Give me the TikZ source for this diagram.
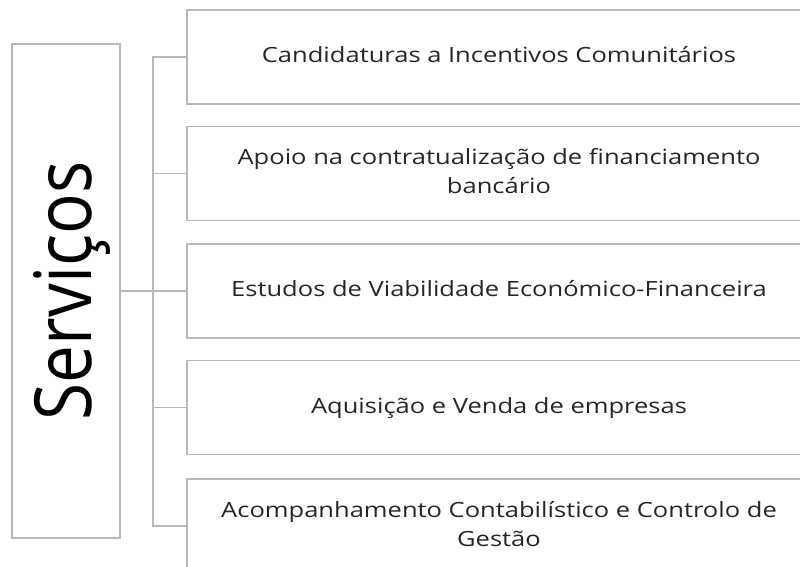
\documentclass[tikz,border=0pt]{standalone}
\usepackage{fontspec}
\setmainfont{Open Sans}
\newcommand{\wide}[1]{\scalebox{1.215}[1]{\begin{tabular}{@{}c@{}}#1\end{tabular}}}
\begin{document}
\begin{tikzpicture}[x=1pt,y=-1pt,
  line/.style={draw=black!28, line width=1.6pt},
  item/.style={line, minimum width=624pt, minimum height=94pt, inner sep=0pt,
    align=center, font=\fontsize{21}{29}\selectfont, text=black!85},
  head/.style={line, minimum width=108pt, minimum height=494pt, inner sep=0pt}]
\useasboundingbox (0,0) rectangle (800,566);
\clip (0,0) rectangle (800,566);
\fill[white] (0,0) rectangle (800,566);
\node[head] (L) at (66,291) {};
\node[rotate=90, anchor=base, inner sep=0pt, font=\fontsize{67.5}{70}\selectfont, text=black] (Lt) at (91,291) {\scalebox{1}[1.17]{Serviços}};
\node[item] (B1) at (499,57) {\wide{Candidaturas a Incentivos Comunitários}};
\node[item] (B2) at (499,173.5) {\wide{Apoio na contratualização de financiamento\\bancário}};
\node[item] (B3) at (499,291) {\wide{Estudos de Viabilidade Económico-Financeira}};
\node[item] (B4) at (499,407.5) {\wide{Aquisição e Venda de empresas}};
\node[item] (B5) at (499,526) {\wide{Acompanhamento Contabilístico e Controlo de\\Gestão}};
\coordinate (j) at (153,291);
\draw[line] (L.east) -- (j);
\foreach \b in {B1,B2,B3,B4,B5} { \draw[line] (\b.west) -| (j); }
\end{tikzpicture}
\end{document}
